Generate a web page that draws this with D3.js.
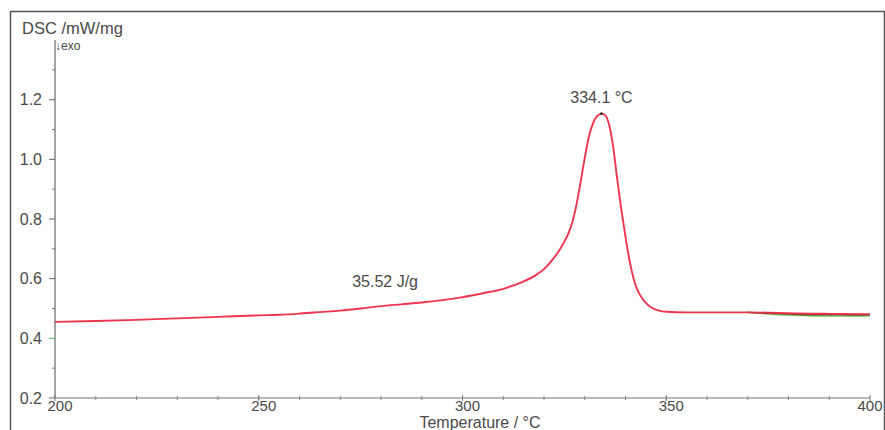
<!DOCTYPE html>
<html>
<head>
<meta charset="utf-8">
<script src="https://cdn.jsdelivr.net/npm/d3@7"></script>
<style>
  html, body { margin: 0; padding: 0; background: #fff; }
  svg { display: block; }
  text { font-family: "Liberation Sans", Arial, sans-serif; fill: #4a4a4a; }
</style>
</head>
<body>
<svg id="chart" width="885" height="430"></svg>
<script>
// DSC heating curve, temperature (°C) vs heat flow (mW/mg)
const temperature = [200, 210, 220, 230, 240, 250, 255, 260, 265, 270, 275, 280, 285, 290, 295,
  300, 305, 310, 314, 318, 320, 322, 324, 325, 326, 327, 328, 329, 330, 331, 332, 333, 334.1,
  335, 336, 337, 338, 339, 340, 341, 342, 343, 344, 345, 346, 347, 348, 350, 355, 360, 370,
  375, 380, 390, 400];
const dscSignal = [0.455, 0.458, 0.462, 0.467, 0.472, 0.477, 0.479, 0.483, 0.488, 0.493, 0.500,
  0.508, 0.514, 0.520, 0.528, 0.538, 0.551, 0.566, 0.585, 0.612, 0.632, 0.662, 0.700, 0.725,
  0.752, 0.792, 0.850, 0.925, 1.005, 1.075, 1.120, 1.145, 1.153, 1.148, 1.115, 1.040, 0.930,
  0.830, 0.740, 0.660, 0.600, 0.560, 0.536, 0.519, 0.507, 0.499, 0.494, 0.489, 0.487, 0.487,
  0.487, 0.486, 0.484, 0.482, 0.481];

// Repeat runs that separate slightly from the main trace at the high end
const tailTemperature = [370, 375, 380, 385, 390, 395, 400];
const tailDark = [0.487, 0.484, 0.481, 0.479, 0.479, 0.478, 0.479];
const tailGreen = [0.487, 0.482, 0.478, 0.476, 0.475, 0.475, 0.476];

const xTicks = [200, 250, 300, 350, 400];
const yTicks = [0.2, 0.4, 0.6, 0.8, 1.0, 1.2];
const peakTemperature = 334.1;
const peakLabel = "334.1 °C";
const enthalpyLabel = "35.52 J/g";
const yTitle = "DSC /mW/mg";
const exoLabel = "↓exo";
const xTitle = "Temperature / °C";

const svg = d3.select("#chart");
const x = d3.scaleLinear().domain([200, 400]).range([55, 870]);
const y = d3.scaleLinear().domain([0.2, 1.4]).range([398, 40]);

// outer frame
svg.append("path")
  .attr("d", "M10.5,430 V11.5 H884.5 V430")
  .attr("fill", "none").attr("stroke", "#555").attr("stroke-width", 1.5);

// y axis
const yAxis = svg.append("g").attr("transform", "translate(55,0)");
yAxis.append("line").attr("y1", y(1.4)).attr("y2", y(0.2)).attr("stroke", "#666").attr("stroke-width", 1.2);
yAxis.selectAll(".ymin").data(d3.range(0.3, 1.4, 0.2)).join("line")
  .attr("x1", -3).attr("x2", 0).attr("y1", d => y(d)).attr("y2", d => y(d))
  .attr("stroke", "#777");
yAxis.selectAll(".ymaj").data(yTicks).join("line")
  .attr("x1", -6).attr("x2", 0).attr("y1", d => y(d)).attr("y2", d => y(d))
  .attr("stroke", d => d === 0.4 ? "#5a5" : "#666");
yAxis.selectAll("text").data(yTicks).join("text")
  .attr("x", -13).attr("y", d => y(d) + 5.5)
  .attr("text-anchor", "end").attr("font-size", 16)
  .text(d => d.toFixed(1));

// x axis
const xAxis = svg.append("g").attr("transform", "translate(0,398)");
xAxis.append("line").attr("x1", x(200)).attr("x2", x(400)).attr("stroke", "#777").attr("stroke-width", 1.2);
xAxis.selectAll(".xmin").data(d3.range(210, 400, 10)).join("line")
  .attr("x1", d => x(d)).attr("x2", d => x(d)).attr("y1", -2).attr("y2", 2)
  .attr("stroke", "#888");
xAxis.selectAll(".xmaj").data(xTicks).join("line")
  .attr("x1", d => x(d)).attr("x2", d => x(d)).attr("y1", -3).attr("y2", 3)
  .attr("stroke", "#777");
// the last label is kept inside the frame
xAxis.selectAll("text").data(xTicks).join("text")
  .attr("x", (d, i) => i === xTicks.length - 1 ? x(d) : x(d) + 5).attr("y", 12.5)
  .attr("text-anchor", "middle").attr("font-size", 15)
  .text(d => d);

// titles
svg.append("text").attr("x", 22).attr("y", 34).attr("font-size", 16.5).text(yTitle);
svg.append("text").attr("x", 55).attr("y", 50).attr("font-size", 12).text(exoLabel);
svg.append("text").attr("x", 480).attr("y", 427.5).attr("text-anchor", "middle")
  .attr("font-size", 16).text(xTitle);

// curves
const line = d3.line().x(d => x(d[0])).y(d => y(d[1])).curve(d3.curveMonotoneX);
svg.append("path")
  .datum(d3.zip(tailTemperature, tailGreen))
  .attr("d", line).attr("fill", "none").attr("stroke", "#7cc95a").attr("stroke-width", 1.6);
svg.append("path")
  .datum(d3.zip(tailTemperature, tailDark))
  .attr("d", line).attr("fill", "none").attr("stroke", "#5a4a30").attr("stroke-width", 1.4);
svg.append("path")
  .datum(d3.zip(temperature, dscSignal))
  .attr("d", line).attr("fill", "none").attr("stroke", "#ec2b44").attr("stroke-width", 1.9)
  .attr("stroke-opacity", 0.95);

// peak annotation
const peakValue = dscSignal[temperature.indexOf(peakTemperature)];
svg.append("circle").attr("cx", x(peakTemperature)).attr("cy", y(peakValue))
  .attr("r", 1.4).attr("fill", "#333");
svg.append("text").attr("x", x(peakTemperature)).attr("y", y(peakValue) - 11)
  .attr("text-anchor", "middle").attr("font-size", 16).text(peakLabel);

// enthalpy annotation
svg.append("text").attr("x", x(281)).attr("y", 287)
  .attr("text-anchor", "middle").attr("font-size", 16).text(enthalpyLabel);
</script>
</body>
</html>
